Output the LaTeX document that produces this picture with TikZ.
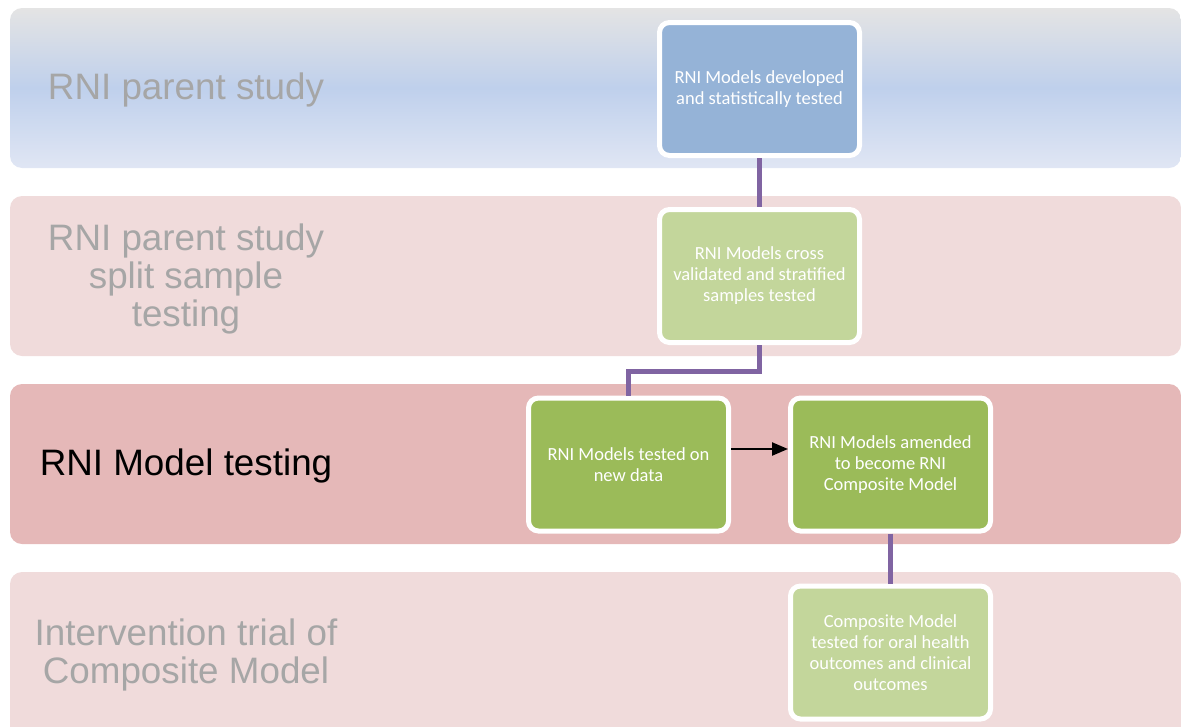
\documentclass[tikz,border=0pt]{standalone}
\usepackage{fontspec}
\setmainfont{Liberation Sans}
\newfontfamily\boxfont{Carlito}
\usetikzlibrary{arrows.meta}
\definecolor{bandpink}{HTML}{F0DBDB}
\definecolor{banddark}{HTML}{E5B8B8}
\definecolor{bandgrey}{HTML}{E4E4E4}
\definecolor{bandblue}{HTML}{BFD0EC}
\definecolor{bandlight}{HTML}{E0E6F4}
\definecolor{boxblue}{HTML}{95B3D7}
\definecolor{boxlight}{HTML}{C3D69B}
\definecolor{boxgreen}{HTML}{9BBB59}
\definecolor{conn}{HTML}{8064A2}
\definecolor{labelgrey}{HTML}{A6A6A6}
\pgfdeclareverticalshading{bandshade}{100bp}{color(0bp)=(bandlight); color(25bp)=(bandlight); color(50bp)=(bandblue); color(75bp)=(bandgrey); color(100bp)=(bandgrey)}
\tikzset{
  band/.style={rounded corners=12pt},
  bandlabel/.style={font=\fontsize{36.8}{38}\selectfont, align=center, text=labelgrey, inner sep=0pt},
  stepbox/.style={draw=white, line width=5pt, rounded corners=10pt, minimum width=200pt, minimum height=133pt,
    text=white, align=center, font=\boxfont\fontsize{18.5}{21}\selectfont, inner sep=0pt},
  link/.style={draw=conn, line width=5pt},
}
\begin{document}
\begin{tikzpicture}[x=1pt,y=-1pt]
\useasboundingbox (0,0) rectangle (1181,726);
% bands
\shade[band, shading=bandshade] (10,8) rectangle (1181,168);
\fill[band, bandpink] (10,196) rectangle (1181,356);
\fill[band, banddark] (10,384) rectangle (1181,544);
\begin{scope}
\clip (0,0) rectangle (1181,726);
\fill[band, bandpink] (10,572) rectangle (1181,760);
\end{scope}
% band labels
\node[bandlabel] (l1) at (186,90) {RNI parent study};
\node[bandlabel] (l2) at (186,279) {RNI parent study\\split sample\\testing};
\node[bandlabel, text=black] (l3) at (186,466) {RNI Model testing};
\node[bandlabel] (l4) at (186,655) {Intervention trial of\\Composite Model};
% boxes
\node[stepbox, fill=boxblue] (b1) at (759.5,89) {RNI Models developed\\and statistically tested};
\node[stepbox, fill=boxlight] (b2) at (759.5,276) {RNI Models cross\\validated and stratified\\samples tested};
\node[stepbox, fill=boxgreen] (b3) at (628.5,464.5) {RNI Models tested on\\new data};
\node[stepbox, fill=boxgreen] (b4) at (890.5,464.5) {RNI Models amended\\to become RNI\\Composite Model};
\node[stepbox, fill=boxlight] (b5) at (890.5,652.5) {Composite Model\\tested for oral health\\outcomes and clinical\\outcomes};
% connectors
\draw[link] (b1.south) -- (b2.north);
\draw[link] (b2.south) -- ++(0,26) -| (b3.north);
\draw[link] (b4.south) -- (b5.north);
\draw[line width=2.3pt, -{Triangle[length=16pt,width=13pt]}] ([yshift=15.5pt]b3.east) -- ([yshift=15.5pt]b4.west);
\end{tikzpicture}
\end{document}
